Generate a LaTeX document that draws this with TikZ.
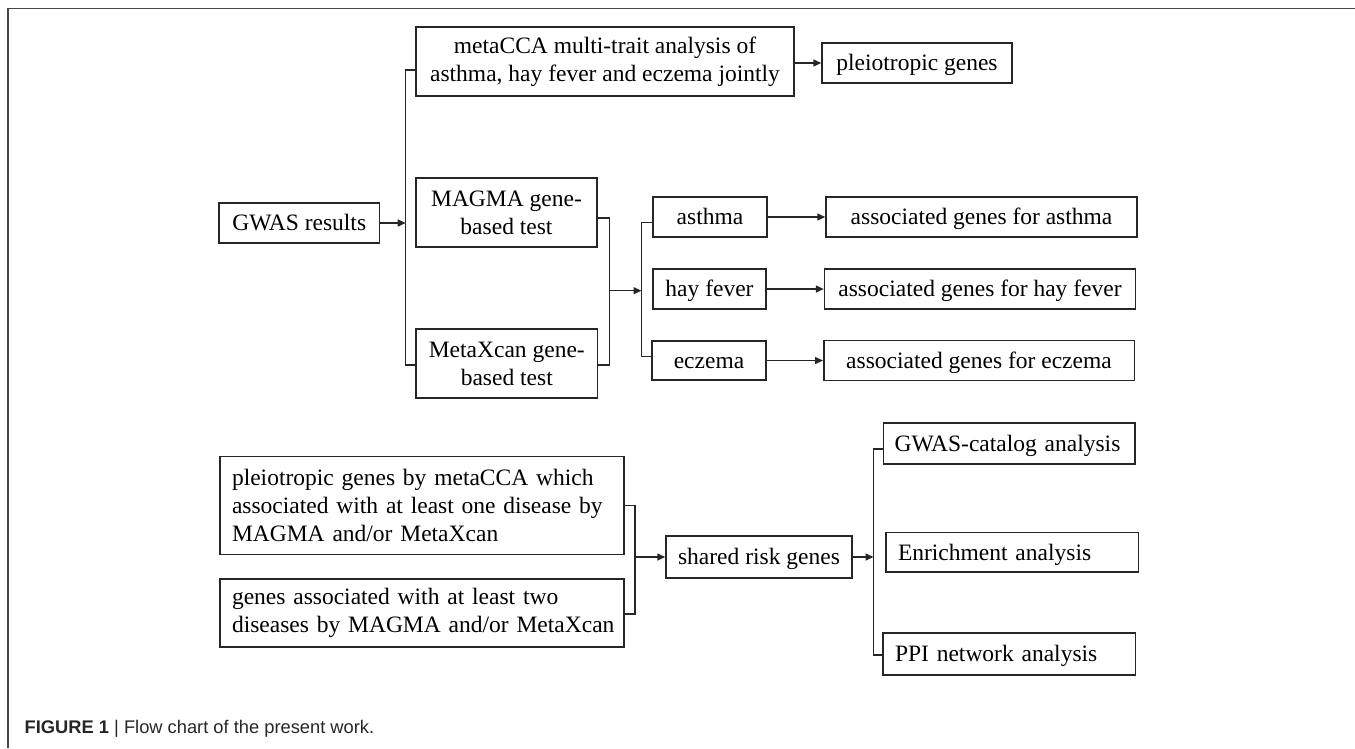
\documentclass[tikz,border=0pt]{standalone}
\usepackage{fontspec}
\setmainfont{Liberation Serif}
\newfontfamily\capfont{Liberation Sans}
\usetikzlibrary{arrows.meta}
\begin{document}
\begin{tikzpicture}[x=1pt,y=-1pt,
  box/.style={draw=black!85, line width=1.5pt, inner sep=0pt, align=center,
              font=\fontsize{23.5}{28}\selectfont},
  one/.style={text height=20.6pt, text depth=5pt},
  lbox/.style={box, align=left, inner xsep=10pt},
  ln/.style={line width=1.5pt, draw=black!85},
  arr/.style={ln, -{Triangle[length=8pt,width=7pt]}}]
\useasboundingbox (0,0) rectangle (1355,748);
\draw[line width=1.6pt, black!72] (8,748) -- (8,8.5) -- (1355,8.5);

% top part
\node[box, one, minimum width=160.5pt, minimum height=40pt] (gwas) at (299.25,223) {GWAS results};
\node[box, minimum width=378pt, minimum height=69pt] (meta) at (605,61.5) {metaCCA multi-trait analysis of\\asthma, hay fever and eczema jointly};
\node[box, one, minimum width=190pt, minimum height=40pt] (pleio) at (917,63) {pleiotropic genes};
\node[box, minimum width=181pt, minimum height=69pt] (magma) at (506.5,212.5) {MAGMA gene-\\based test};
\node[box, minimum width=181.5pt, minimum height=69pt] (mxc) at (506.8,363.5) {MetaXcan gene-\\based test};
\node[box, one, minimum width=114pt, minimum height=40pt] (asthma) at (710,217) {asthma};
\node[box, one, minimum width=113pt, minimum height=40pt] (hay) at (709.5,289) {hay fever};
\node[box, one, minimum width=114pt, minimum height=39pt] (ecz) at (709,360.5) {eczema};
\node[box, one, minimum width=311pt, minimum height=40pt] (aga) at (981.5,217) {associated genes for asthma};
\node[box, one, minimum width=311pt, minimum height=40pt] (agh) at (980,289) {associated genes for hay fever};
\node[box, one, minimum width=310.5pt, minimum height=40pt] (age) at (979,360.5) {associated genes for eczema};

% bottom part
\node[lbox, inner xsep=12pt, text width=380pt, minimum height=98pt] (box1) at (422,505.5)
  {\mbox{pleiotropic genes by metaCCA which}\\\mbox{associated with at least one disease by}\\\mbox{MAGMA and/or MetaXcan}};
\node[lbox, inner xsep=12pt, text width=380pt, minimum height=68pt] (box2) at (422,613)
  {\mbox{genes associated with at least two}\\\mbox{diseases by MAGMA and/or MetaXcan}};
\node[box, one, minimum width=186pt, minimum height=42pt] (shared) at (759,557) {shared risk genes};
\node[lbox, one, inner xsep=11pt, text width=229.5pt, minimum height=41pt] (gc) at (1009.35,443.35) {GWAS-catalog analysis};
\node[lbox, one, inner xsep=12pt, text width=228.5pt, minimum height=39.5pt] (enr) at (1012.25,552.3) {Enrichment analysis};
\node[lbox, one, inner xsep=12pt, text width=228.7pt, minimum height=42pt] (ppi) at (1009.35,654) {PPI network analysis};

% caption
\node[anchor=base west, inner sep=0pt, text=black!85,
      font=\capfont\fontsize{18.3}{20}\selectfont] (cap) at (24.5,733)
      {\textbf{FIGURE 1} | Flow chart of the present work.};

% connectors top
\coordinate (bA) at (405.7,70);
\coordinate (bB) at (405.7,365);
\draw[ln] (meta.west |- bA) -- (bA) -- (bB) -- (mxc.west |- bB);
\draw[arr] (gwas.east) -- (gwas.east -| bA);
\draw[arr] (meta.east |- pleio.west) -- (pleio.west);

\coordinate (bC) at (609.3,218);
\coordinate (bD) at (609.3,365);
\draw[ln] (magma.east |- bC) -- (bC) -- (bD) -- (mxc.east |- bD);
\coordinate (bE) at (641.5,222.7);
\coordinate (bF) at (641.5,356.7);
\draw[ln] (asthma.west |- bE) -- (bE) -- (bF) -- (ecz.west |- bF);
\coordinate (mA) at (609.3,290.7);
\draw[arr] (mA) -- (mA -| bE);

\draw[arr] (asthma.east) -- (asthma.east -| aga.west);
\draw[arr] (hay.east) -- (hay.east -| agh.west);
\draw[arr] (ecz.east) -- (ecz.east -| age.west);

% connectors bottom
\coordinate (bG) at (635,505.7);
\coordinate (bH) at (635,614);
\draw[ln] (box1.east |- bG) -- (bG) -- (bH) -- (box2.east |- bH);
\draw[arr] (bG |- shared.west) -- (shared.west);
\coordinate (bI) at (873.5,449);
\coordinate (bJ) at (873.5,655);
\draw[ln] (gc.west |- bI) -- (bI) -- (bJ) -- (ppi.west |- bJ);
\draw[arr] (shared.east) -- (shared.east -| bI);
\end{tikzpicture}
\end{document}
